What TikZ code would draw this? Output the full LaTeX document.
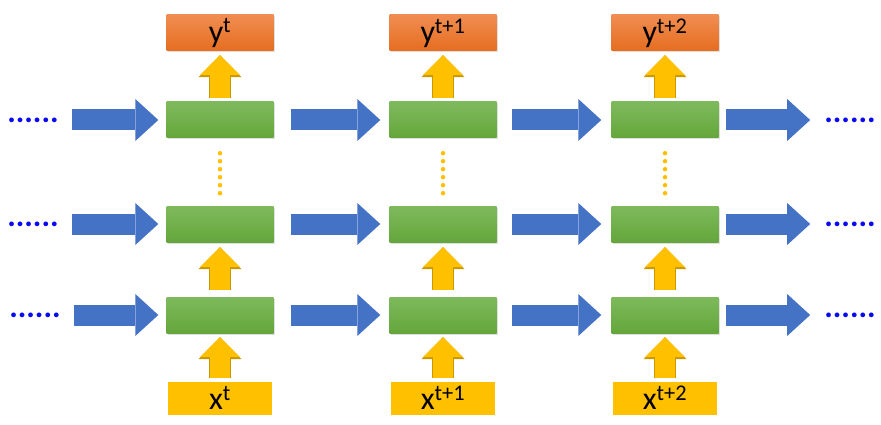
\documentclass[tikz,border=0pt]{standalone}
\usepackage{fontspec}
\setmainfont{Carlito}
\usetikzlibrary{arrows.meta,shadows}
\definecolor{flowblue}{HTML}{4472C4}
\definecolor{celltop}{HTML}{7EBA5C}
\definecolor{cellbot}{HTML}{64A63B}
\definecolor{outtop}{HTML}{F08D52}
\definecolor{outbot}{HTML}{E56D1F}
\definecolor{gold}{HTML}{FFC000}
\definecolor{goldedge}{HTML}{C99700}
\definecolor{dotblue}{HTML}{0A0AF0}

\begin{document}
\begin{tikzpicture}[x=1pt,y=-1pt,
  hcell/.style={rectangle,minimum width=107pt,minimum height=36pt,inner sep=0pt,
    top color=celltop,bottom color=cellbot,
    drop shadow={opacity=0.25,shadow xshift=1pt,shadow yshift=-1.5pt}},
  ycell/.style={hcell,top color=outtop,bottom color=outbot,font=\fontsize{32}{36}\selectfont},
  xcell/.style={rectangle,minimum width=104pt,minimum height=33pt,inner sep=0pt,
    fill=gold,font=\fontsize{32}{36}\selectfont},
  moredots/.style={inner sep=0pt,text=dotblue,font=\fontsize{32}{36}\selectfont\bfseries},
  flow/.style={draw=flowblue,line width=21pt,
    -{Triangle[width=42pt,length=23pt,line width=0pt]}},
  feed/.style={preaction={draw=goldedge,line width=22pt,
      -{Triangle[width=43pt,length=22pt,line width=0pt]}},
    draw=gold,line width=20pt,-{Triangle[width=40pt,length=20pt,line width=0pt]}},
  layerdots/.style={draw=gold,line width=4.5pt,line cap=round,dash pattern=on 0pt off 8pt}]
  \useasboundingbox (0,0) rectangle (881,425);

  % outputs
  \node[ycell] (y1) at (220,33) {y\textsuperscript{t}};
  \node[ycell] (y2) at (443,33) {y\textsuperscript{t+1}};
  \node[ycell] (y3) at (665,33) {y\textsuperscript{t+2}};

  % hidden layers
  \node[hcell] (h31) at (220,120) {};
  \node[hcell] (h32) at (443,120) {};
  \node[hcell] (h33) at (665,120) {};
  \node[hcell] (h21) at (220,224) {};
  \node[hcell] (h22) at (443,224) {};
  \node[hcell] (h23) at (665,224) {};
  \node[hcell] (h11) at (220,315) {};
  \node[hcell] (h12) at (443,315) {};
  \node[hcell] (h13) at (665,315) {};

  % inputs
  \node[xcell] (x1) at (220,398) {x\textsuperscript{t}};
  \node[xcell] (x2) at (443,398) {x\textsuperscript{t+1}};
  \node[xcell] (x3) at (665,398) {x\textsuperscript{t+2}};

  % dots before and after
  \node[moredots] (dl3) at (33,120) {......};
  \node[moredots] (dl2) at (33,224) {......};
  \node[moredots] (dl1) at (35,315) {......};
  \node[moredots] (dr3) at (850,120) {......};
  \node[moredots] (dr2) at (850,224) {......};
  \node[moredots] (dr1) at (850,315) {......};

  % time steps
  \draw[flow,shorten <=13pt,shorten >=8pt] (dl3) -- (h31);
  \draw[flow,shorten <=17pt,shorten >=9pt] (h31) -- (h32);
  \draw[flow,shorten <=15pt,shorten >=10pt] (h32) -- (h33);
  \draw[flow,shorten <=7pt,shorten >=14pt] (h33) -- (dr3);

  \draw[flow,shorten <=13pt,shorten >=8pt] (dl2) -- (h21);
  \draw[flow,shorten <=17pt,shorten >=9pt] (h21) -- (h22);
  \draw[flow,shorten <=15pt,shorten >=10pt] (h22) -- (h23);
  \draw[flow,shorten <=7pt,shorten >=14pt] (h23) -- (dr2);

  \draw[flow,shorten <=13pt,shorten >=8pt] (dl1) -- (h11);
  \draw[flow,shorten <=17pt,shorten >=9pt] (h11) -- (h12);
  \draw[flow,shorten <=15pt,shorten >=10pt] (h12) -- (h13);
  \draw[flow,shorten <=7pt,shorten >=14pt] (h13) -- (dr1);

  % layers
  \draw[feed,shorten <=3pt,shorten >=4pt] (x1) -- (h11);
  \draw[feed,shorten <=3pt,shorten >=4pt] (x2) -- (h12);
  \draw[feed,shorten <=3pt,shorten >=4pt] (x3) -- (h13);

  \draw[feed,shorten <=7pt,shorten >=5pt] (h11) -- (h21);
  \draw[feed,shorten <=7pt,shorten >=5pt] (h12) -- (h22);
  \draw[feed,shorten <=7pt,shorten >=5pt] (h13) -- (h23);

  \draw[layerdots,shorten <=15pt,shorten >=12pt] (h31) -- (h21);
  \draw[layerdots,shorten <=15pt,shorten >=12pt] (h32) -- (h22);
  \draw[layerdots,shorten <=15pt,shorten >=12pt] (h33) -- (h23);

  \draw[feed,shorten <=4pt,shorten >=4pt] (h31) -- (y1);
  \draw[feed,shorten <=4pt,shorten >=4pt] (h32) -- (y2);
  \draw[feed,shorten <=4pt,shorten >=4pt] (h33) -- (y3);
\end{tikzpicture}
\end{document}
